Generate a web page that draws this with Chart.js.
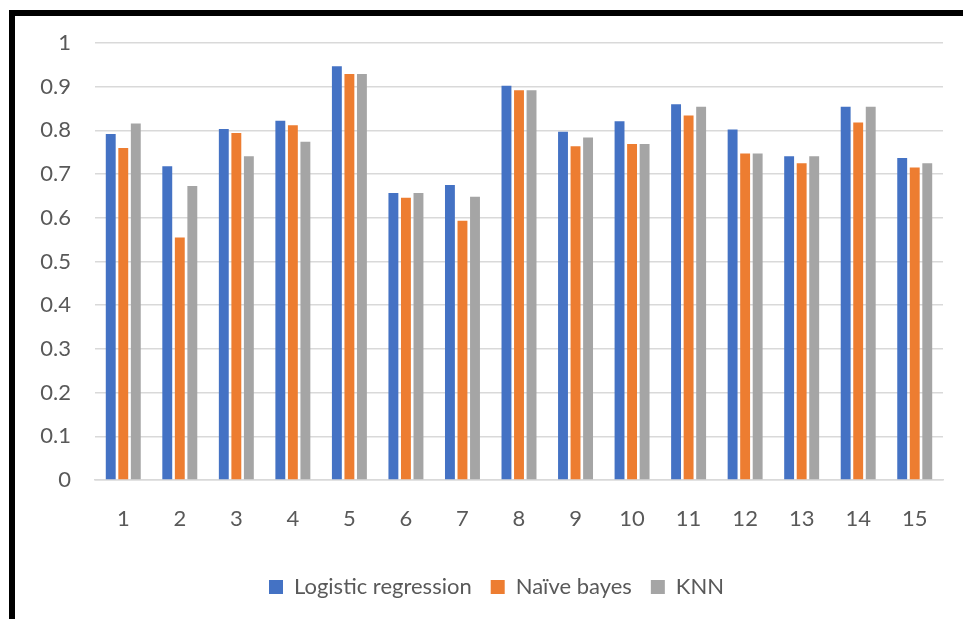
<!DOCTYPE html>
<html>
<head>
<meta charset="utf-8">
<script src="https://cdn.jsdelivr.net/npm/chart.js@4.4.1/dist/chart.umd.min.js"></script>
<style>
  html, body { margin: 0; padding: 0; background: #fff; }
  #wrap { position: relative; width: 963px; height: 619px; }
  #frame {
    position: absolute; left: 9px; top: 10px; right: 0; bottom: 0;
    border-top: 6px solid #000; border-left: 6px solid #000;
    pointer-events: none;
  }
  canvas { position: absolute; left: 0; top: 0; }
</style>
</head>
<body>
<div id="wrap">
  <canvas id="chart" width="963" height="619"></canvas>
  <div id="frame"></div>
</div>
<script>
// chart data
const categories = ['1', '2', '3', '4', '5', '6', '7', '8', '9', '10', '11', '12', '13', '14', '15'];
const logisticRegression = [0.792, 0.718, 0.803, 0.822, 0.947, 0.657, 0.675, 0.902, 0.797, 0.821, 0.860, 0.802, 0.741, 0.854, 0.737];
const naiveBayes = [0.760, 0.555, 0.794, 0.812, 0.929, 0.646, 0.593, 0.892, 0.764, 0.769, 0.834, 0.747, 0.725, 0.818, 0.715];
const knn = [0.816, 0.673, 0.741, 0.774, 0.929, 0.657, 0.648, 0.892, 0.784, 0.769, 0.854, 0.747, 0.741, 0.854, 0.725];

const textColor = '#595959';
const gridColor = '#d9d9d9';
const fontSpec = { family: 'Lato', size: 22 };

// nudge the centred legend to the right, the reference centres it a bit off the canvas middle
const legendShift = {
    id: 'legendShift',
    afterLayout(chart) {
        const lg = chart.legend;
        if (!lg) return;
        lg.left += 25;
        lg.right += 25;
    }
};

function initChart() {
    const ctx = document.getElementById('chart').getContext('2d');
    new Chart(ctx, {
        type: 'bar',
        data: {
            labels: categories,
            datasets: [
                { label: 'Logistic regression', data: logisticRegression, backgroundColor: '#4472C4' },
                { label: 'Naïve bayes', data: naiveBayes, backgroundColor: '#ED7D31' },
                { label: 'KNN', data: knn, backgroundColor: '#A5A5A5' }
            ]
        },
        plugins: [legendShift],
        options: {
            responsive: false,
            animation: false,
            categoryPercentage: 0.665,
            barPercentage: 0.79,
            layout: { padding: { left: 0, right: 20, top: 43, bottom: 11 } },
            font: fontSpec,
            plugins: {
                tooltip: { enabled: false },
                legend: {
                    position: 'bottom',
                    labels: {
                        color: textColor,
                        font: fontSpec,
                        boxWidth: 14,
                        boxHeight: 14,
                        padding: 19
                    }
                }
            },
            scales: {
                x: {
                    grid: { display: false, drawTicks: false },
                    border: { display: true, color: gridColor, width: 1.5 },
                    ticks: { color: textColor, font: fontSpec, padding: 26 },
                    afterFit: (scale) => { scale.height = 77; }
                },
                y: {
                    min: 0,
                    max: 1,
                    grid: { color: gridColor, lineWidth: 1.5, drawTicks: false },
                    border: { display: false },
                    ticks: {
                        stepSize: 0.1,
                        color: textColor,
                        font: fontSpec,
                        padding: 24,
                        callback: (value) => String(Number(value.toFixed(1)))
                    },
                    afterFit: (scale) => { scale.width = 95; }
                }
            }
        }
    });
}

window.addEventListener('load', initChart);
</script>
</body>
</html>
